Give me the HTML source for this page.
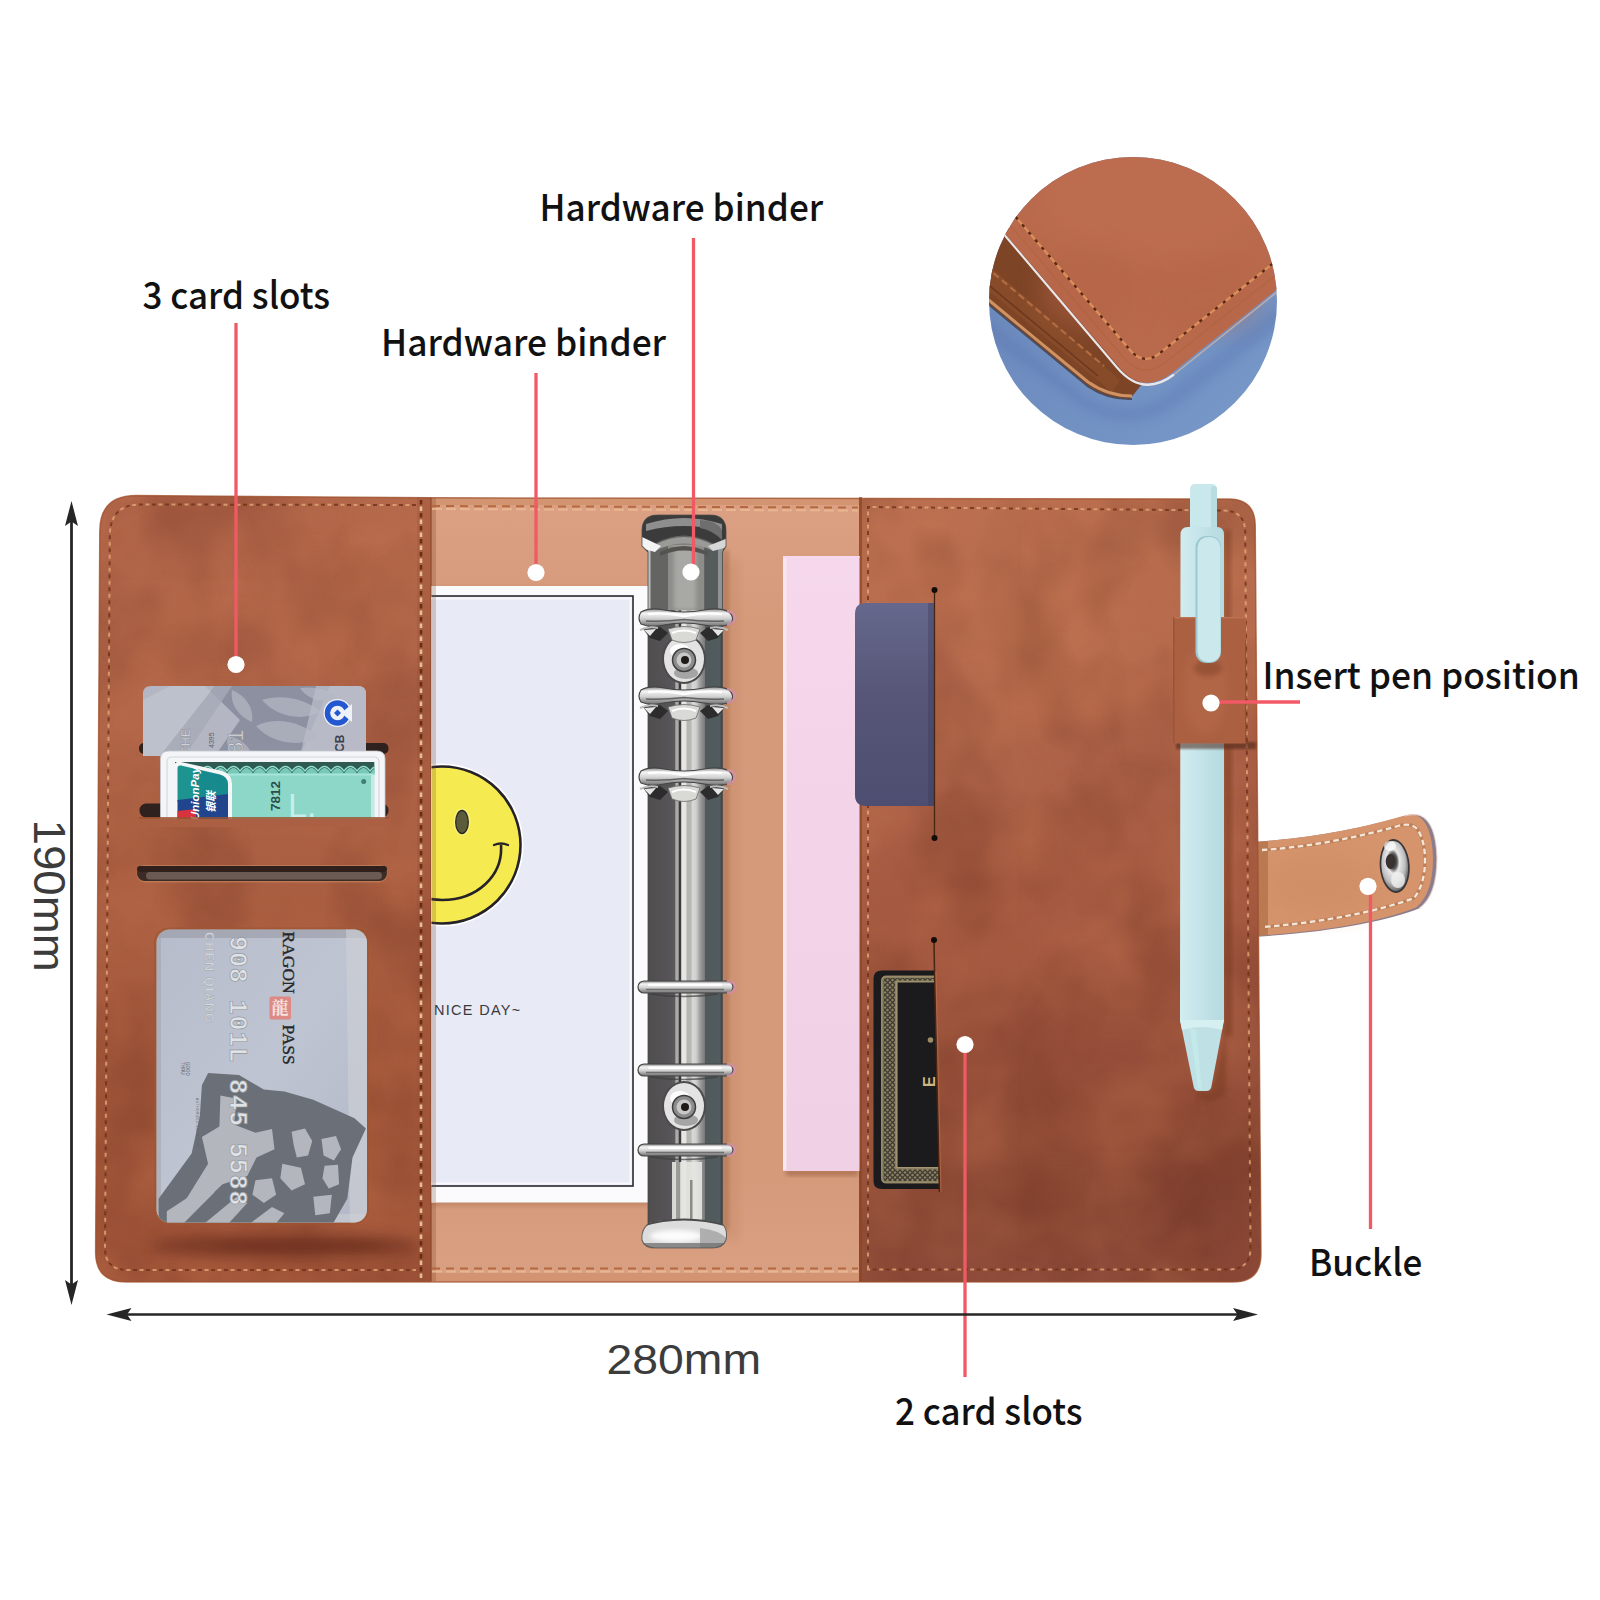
<!DOCTYPE html>
<html lang="en"><head><meta charset="utf-8"><title>Binder features</title>
<style>html,body{margin:0;padding:0;background:#fff}svg{display:block}</style></head>
<body>
<svg width="1600" height="1600" viewBox="0 0 1600 1600">
<defs>
<filter id="b2" x="-20%" y="-20%" width="140%" height="140%"><feGaussianBlur stdDeviation="2"/></filter>
<filter id="b4" x="-20%" y="-20%" width="140%" height="140%"><feGaussianBlur stdDeviation="4"/></filter>
<filter id="b8" x="-30%" y="-80%" width="160%" height="260%"><feGaussianBlur stdDeviation="7"/></filter>
<filter id="b12" x="-30%" y="-30%" width="160%" height="160%"><feGaussianBlur stdDeviation="12"/></filter>
<filter id="b25" x="-40%" y="-40%" width="180%" height="180%"><feGaussianBlur stdDeviation="25"/></filter>
<filter id="b1" x="-20%" y="-20%" width="140%" height="140%"><feGaussianBlur stdDeviation="0.8"/></filter>
<filter id="fMotD" x="0" y="0" width="100%" height="100%" color-interpolation-filters="sRGB"><feTurbulence type="fractalNoise" baseFrequency="0.012 0.009" numOctaves="3" seed="4"/><feColorMatrix type="matrix" values="0 0 0 0 0.36  0 0 0 0 0.15  0 0 0 0 0.09  2.6 0 0 0 -1.05"/></filter>
<filter id="fMotL" x="0" y="0" width="100%" height="100%" color-interpolation-filters="sRGB"><feTurbulence type="fractalNoise" baseFrequency="0.010 0.012" numOctaves="3" seed="11"/><feColorMatrix type="matrix" values="0 0 0 0 0.82  0 0 0 0 0.50  0 0 0 0 0.34  2.6 0 0 0 -1.05"/></filter>
<clipPath id="cBody"><path d="M136,495.500 L430,497.800 L1229,499 Q1255,499.500 1255.200,525 L1261,1254 Q1261,1282 1233,1282 L126,1282 Q95.500,1282 95.600,1252 L99.800,531 Q100,495.500 136,495.500 Z"/></clipPath>
<clipPath id="cLeft"><rect x="90" y="490" width="341.500" height="800"/></clipPath>
<clipPath id="cRight"><rect x="859" y="490" width="410" height="800"/></clipPath>
<clipPath id="cCirc"><circle cx="1133" cy="301" r="144"/></clipPath>
<linearGradient id="gSpine" gradientUnits="userSpaceOnUse" x1="648" x2="722" y1="0" y2="0">
 <stop offset="0" stop-color="#4a4848"/>
 <stop offset="0.03" stop-color="#504e4e"/>
 <stop offset="0.30" stop-color="#565458"/>
 <stop offset="0.365" stop-color="#5c5a5c"/>
 <stop offset="0.375" stop-color="#b0aeac"/>
 <stop offset="0.41" stop-color="#aaa8a6"/>
 <stop offset="0.418" stop-color="#3a3838"/>
 <stop offset="0.445" stop-color="#3e3c3c"/>
 <stop offset="0.455" stop-color="#e8e8e8"/>
 <stop offset="0.51" stop-color="#e4e4e2"/>
 <stop offset="0.53" stop-color="#b4b4b0"/>
 <stop offset="0.58" stop-color="#b8b8b4"/>
 <stop offset="0.60" stop-color="#d8d8d8"/>
 <stop offset="0.65" stop-color="#d0d0d0"/>
 <stop offset="0.70" stop-color="#a0a0a0"/>
 <stop offset="0.765" stop-color="#7a7a7a"/>
 <stop offset="0.775" stop-color="#505a5c"/>
 <stop offset="0.97" stop-color="#525c5e"/>
 <stop offset="1" stop-color="#3a4244"/>
</linearGradient>
<linearGradient id="gRing" x1="0" x2="0" y1="0" y2="1">
 <stop offset="0" stop-color="#8a8a8a"/>
 <stop offset="0.25" stop-color="#f4f4f4"/>
 <stop offset="0.55" stop-color="#d2d2d2"/>
 <stop offset="1" stop-color="#6e6e6e"/>
</linearGradient>
<linearGradient id="gPen" x1="0" x2="1" y1="0" y2="0">
 <stop offset="0" stop-color="#d2ecef"/>
 <stop offset="0.4" stop-color="#c6e5ea"/>
 <stop offset="1" stop-color="#b4dadf"/>
</linearGradient>
<linearGradient id="gGrey" x1="0" x2="1" y1="0" y2="1">
 <stop offset="0" stop-color="#adb0be"/>
 <stop offset="1" stop-color="#9094a7"/>
</linearGradient>
<linearGradient id="gWin" x1="0" x2="1" y1="0" y2="1">
 <stop offset="0" stop-color="#b6bccb"/>
 <stop offset="0.5" stop-color="#bec4d1"/>
 <stop offset="1" stop-color="#b2b8c7"/>
</linearGradient>
<linearGradient id="gBlueBg" x1="0" x2="1" y1="0" y2="1">
 <stop offset="0" stop-color="#6883b8"/>
 <stop offset="1" stop-color="#789aca"/>
</linearGradient>
<linearGradient id="gBlueCard" x1="0" x2="0" y1="0" y2="1">
 <stop offset="0" stop-color="#65688c"/>
 <stop offset="0.45" stop-color="#575678"/>
 <stop offset="1" stop-color="#4d4e71"/>
</linearGradient>
<radialGradient id="gSnap" cx="0.45" cy="0.4" r="0.6">
 <stop offset="0" stop-color="#2a2a2a"/>
 <stop offset="0.25" stop-color="#555"/>
 <stop offset="0.4" stop-color="#e8e8e8"/>
 <stop offset="0.75" stop-color="#bdbdbd"/>
 <stop offset="1" stop-color="#6a6a6a"/>
</radialGradient>
</defs>
<rect x="0" y="0" width="1600" height="1600" fill="#ffffff"/>
<g id="strap">
<path d="M1250,842 C1290,840 1345,833 1405,816 Q1414,813.500 1420,815.500 Q1436,822 1437,858 Q1437,896 1419,908.500 C1390,920 1330,933 1250,937 Z" fill="#8d7d8c"/>
<path d="M1250,842 C1290,840 1345,833 1403,816 Q1412,813.500 1417,815.500 Q1432,823 1433,858 Q1433,894 1416,907.500 C1388,919 1330,932 1250,936 Z" fill="#d5946c"/>
<path d="M1405,816 Q1414,813.500 1420,815.500 Q1436,822 1437,858 Q1437,896 1419,908.500" fill="none" stroke="#e9d5d3" stroke-width="1.200" opacity="0.8"/>
<ellipse cx="1320" cy="885" rx="55" ry="30" fill="#cf8c63" opacity="0.6" filter="url(#b12)"/>
<path d="M1257,842 L1257,936 L1268,935 L1268,841 Z" fill="#9a5a35" opacity="0.45"/>
<path d="M1262,850 C1295,848 1345,841 1398,826 Q1412,822 1418,830 Q1425,842 1425,860 Q1425,884 1414,898 C1380,911 1320,923 1262,927" fill="none" stroke="#b87a52" stroke-width="3.200" opacity="0.8"/>
<path d="M1262,850 C1295,848 1345,841 1398,826 Q1412,822 1418,830 Q1425,842 1425,860 Q1425,884 1414,898 C1380,911 1320,923 1262,927" fill="none" stroke="#f3e6da" stroke-width="2.300" stroke-dasharray="5.500 3.500"/>
<ellipse cx="1394.700" cy="866" rx="15" ry="27" fill="#3a3638" transform="rotate(-4 1394.700 866)"/>
<ellipse cx="1394.700" cy="866" rx="13.300" ry="25" fill="url(#gSnap)" transform="rotate(-4 1394.700 866)"/>
<ellipse cx="1398" cy="880" rx="7" ry="8" fill="#f0f0f0" opacity="0.8"/>
<ellipse cx="1390" cy="846" rx="6" ry="5" fill="#ffffff" opacity="0.7"/>
<ellipse cx="1390.500" cy="861.500" rx="4.800" ry="7.500" fill="#3a3230"/>
</g>
<g id="body" clip-path="url(#cBody)">
<rect x="90" y="490" width="1180" height="800" fill="#d59a7a"/>
<linearGradient id="gTanTop" x1="0" x2="0" y1="0" y2="1"><stop offset="0" stop-color="#dca184"/><stop offset="1" stop-color="#dca184" stop-opacity="0"/></linearGradient>
<rect x="430" y="496" width="430" height="120" fill="url(#gTanTop)"/>
<linearGradient id="gTanBot" x1="0" x2="0" y1="1" y2="0"><stop offset="0" stop-color="#daa083"/><stop offset="1" stop-color="#daa083" stop-opacity="0"/></linearGradient>
<rect x="430" y="1180" width="430" height="102" fill="url(#gTanBot)"/>
<rect x="430" y="496" width="430" height="9" fill="#c98860" opacity="0.5"/>
<rect x="430" y="1273" width="430" height="9" fill="#c98860" opacity="0.5"/>
<rect x="722" y="560" width="18" height="680" fill="#c58a68" opacity="0.4" filter="url(#b4)"/>
<linearGradient id="gLF" gradientUnits="userSpaceOnUse" x1="0" y1="500" x2="0" y2="1280"><stop offset="0" stop-color="#b1664a"/><stop offset="0.3" stop-color="#ae6347"/><stop offset="0.7" stop-color="#a75b3e"/><stop offset="1" stop-color="#a2563a"/></linearGradient>
<rect x="90" y="490" width="341.500" height="800" fill="url(#gLF)"/>
<g clip-path="url(#cLeft)">
<ellipse cx="230" cy="590" rx="110" ry="55" fill="#b96d4f" opacity="0.45" filter="url(#b25)"/>
<ellipse cx="320" cy="650" rx="60" ry="80" fill="#b5694b" opacity="0.4" filter="url(#b25)"/>
<ellipse cx="170" cy="770" rx="45" ry="100" fill="#b4684a" opacity="0.35" filter="url(#b25)"/>
<ellipse cx="260" cy="900" rx="110" ry="35" fill="#a85d41" opacity="0.35" filter="url(#b25)"/>
<ellipse cx="150" cy="1100" rx="35" ry="110" fill="#a0563a" opacity="0.35" filter="url(#b25)"/>
<ellipse cx="392" cy="1050" rx="25" ry="140" fill="#9e5438" opacity="0.4" filter="url(#b25)"/>
<ellipse cx="200" cy="540" rx="110" ry="22" fill="#a95f43" opacity="0.35" filter="url(#b25)"/>
<ellipse cx="395" cy="570" rx="35" ry="80" fill="#c17554" opacity="0.55" filter="url(#b25)"/>
<ellipse cx="330" cy="530" rx="60" ry="30" fill="#bb7050" opacity="0.4" filter="url(#b25)"/>
<rect x="90" y="490" width="341.500" height="800" filter="url(#fMotD)" opacity="0.20"/>
<rect x="90" y="490" width="341.500" height="800" filter="url(#fMotL)" opacity="0.19"/>
<ellipse cx="285" cy="1246" rx="135" ry="12" fill="#6f3320" opacity="0.75" filter="url(#b8)"/>
<ellipse cx="300" cy="1246" rx="85" ry="6" fill="#6a2f1d" opacity="0.45" filter="url(#b4)"/>
</g>
<linearGradient id="gRF" gradientUnits="userSpaceOnUse" x1="1000" y1="500" x2="1060" y2="1280"><stop offset="0" stop-color="#ba6f50"/><stop offset="0.13" stop-color="#b76c4e"/><stop offset="0.32" stop-color="#ac6248"/><stop offset="0.51" stop-color="#a55a41"/><stop offset="0.70" stop-color="#9a523c"/><stop offset="0.90" stop-color="#8b4935"/><stop offset="1" stop-color="#8f4c3a"/></linearGradient>
<rect x="859" y="490" width="410" height="800" fill="url(#gRF)"/>
<g clip-path="url(#cRight)">
<ellipse cx="1060" cy="640" rx="110" ry="70" fill="#bf7453" opacity="0.45" filter="url(#b25)"/>
<ellipse cx="1130" cy="560" rx="70" ry="40" fill="#b96e4f" opacity="0.4" filter="url(#b25)"/>
<ellipse cx="1000" cy="780" rx="80" ry="90" fill="#b3694b" opacity="0.4" filter="url(#b25)"/>
<ellipse cx="1120" cy="900" rx="60" ry="100" fill="#ad6246" opacity="0.35" filter="url(#b25)"/>
<ellipse cx="960" cy="920" rx="50" ry="80" fill="#9c533b" opacity="0.35" filter="url(#b25)"/>
<ellipse cx="1060" cy="1130" rx="110" ry="45" fill="#a25a40" opacity="0.4" filter="url(#b25)"/>
<ellipse cx="1195" cy="1190" rx="55" ry="60" fill="#7f4030" opacity="0.45" filter="url(#b25)"/>
<ellipse cx="1110" cy="1080" rx="50" ry="40" fill="#8a4734" opacity="0.35" filter="url(#b25)"/>
<ellipse cx="900" cy="560" rx="40" ry="50" fill="#c07453" opacity="0.4" filter="url(#b25)"/>
<rect x="859" y="490" width="410" height="800" filter="url(#fMotD)" opacity="0.22"/>
<rect x="859" y="490" width="410" height="800" filter="url(#fMotL)" opacity="0.20"/>
</g>
</g>
<g id="stitches" fill="none">
<path d="M136,495.500 L430,497.800 L1229,499 Q1255,499.500 1255.200,525 L1261,1254 Q1261,1282 1233,1282 L126,1282 Q95.500,1282 95.600,1252 L99.800,531 Q100,495.500 136,495.500 Z" stroke="#9c4f2a" stroke-width="1.5" opacity="0.7"/>
<path d="M416,505 L140,504.500 Q110,504.500 109.800,536 L105,1248 Q105,1270 128,1270 H416" stroke="#6e2e14" stroke-width="2" stroke-dasharray="4 9" opacity="0.75"/>
<path d="M416,505 L140,504.500 Q110,504.500 109.800,536 L105,1248 Q105,1270 128,1270 H416" stroke="#e2a878" stroke-width="2" stroke-dasharray="4 9" stroke-dashoffset="6.500" opacity="0.8"/>
<rect x="417" y="497" width="14" height="784" fill="#8f4a30" opacity="0.25" stroke="none"/>
<line x1="431" y1="498" x2="431" y2="1281" stroke="#8a4528" stroke-width="1.500" opacity="0.7"/>
<line x1="421" y1="500" x2="421" y2="1280" stroke="#66280f" stroke-width="2.600" stroke-dasharray="4.500 8.500" opacity="0.9"/>
<line x1="421" y1="500" x2="421" y2="1280" stroke="#f0c8a0" stroke-width="2.600" stroke-dasharray="4.500 8.500" stroke-dashoffset="6.500" opacity="0.9"/>
<rect x="432" y="498" width="4" height="783" fill="#8a5030" opacity="0.3" stroke="none"/>
<line x1="432" y1="506" x2="858" y2="507.500" stroke="#b4693e" stroke-width="2" stroke-dasharray="8 6"/>
<line x1="432" y1="509" x2="858" y2="510.500" stroke="#eebb96" stroke-width="2" stroke-dasharray="10 4" opacity="0.8"/>
<line x1="432" y1="1268.500" x2="858" y2="1268.500" stroke="#b4693e" stroke-width="2" stroke-dasharray="8 6"/>
<line x1="432" y1="1271.500" x2="858" y2="1271.500" stroke="#eebb96" stroke-width="2" stroke-dasharray="10 4" opacity="0.8"/>
<rect x="859" y="497" width="3" height="784" fill="#8c4524" opacity="0.7" stroke="none"/>
<path d="M868,1269.500 V507 L1224,510.500 Q1245,511 1245.200,532 L1250.500,1248 Q1250.500,1269.500 1228,1269.500 Z" stroke="#e2a878" stroke-width="2" stroke-dasharray="4 9" opacity="0.8"/>
<path d="M868,1269.500 V507 L1224,510.500 Q1245,511 1245.200,532 L1250.500,1248 Q1250.500,1269.500 1228,1269.500 Z" stroke="#6e2e14" stroke-width="2" stroke-dasharray="4 9" stroke-dashoffset="6.500" opacity="0.75"/>
</g>
<g id="leftcards">
<rect x="139" y="743" width="249.500" height="11" rx="5" fill="#2f211d"/>
<clipPath id="cGrey"><path d="M151,686 H358 Q366,686 366,694 V756 H143 V694 Q143,686 151,686 Z"/></clipPath>
<path d="M151,686 H358 Q366,686 366,694 V756 H143 V694 Q143,686 151,686 Z" fill="#b4b7c3"/>
<g clip-path="url(#cGrey)">
<path d="M205,686 L330,686 L300,756 L215,756 L240,720 Z" fill="#8c90a0"/>
<path d="M143,700 L170,686 L215,686 L160,756 L143,756 Z" fill="#c1c4ce" opacity="0.7"/>
<path d="M160,756 L215,686 L232,686 L185,756 Z" fill="#a6a9b7" opacity="0.8"/>
<g fill="#a9adba"><path d="M262,700 C280,694 306,698 320,712 C300,722 276,716 262,700 Z"/><path d="M256,726 C276,716 304,722 318,738 C296,748 270,742 256,726 Z"/><path d="M232,690 C246,696 254,708 252,722 C238,716 230,704 232,690 Z"/><path d="M300,688 C316,686 330,690 338,698 C324,704 308,700 300,688 Z"/><path d="M228,736 C240,738 250,746 252,756 L232,756 C228,750 226,742 228,736 Z"/></g>
<path d="M316,686 L366,686 L366,756 L300,756 Z" fill="#b9bcc8" opacity="0.75"/>
</g>
<circle cx="337.500" cy="713" r="14" fill="#eef1f8"/>
<circle cx="337.500" cy="713" r="10" fill="none" stroke="#2458d0" stroke-width="5.500"/>
<path d="M337.500,706 L345,713 L337.500,720 L330,713 Z" fill="#eef1f8"/>
<path d="M337.500,709.500 L341,713 L337.500,716.500 L334,713 Z" fill="#2458d0"/>
<path d="M341,713 L352,704 L352,722 Z" fill="#eef1f8"/>
<g font-family="'Liberation Sans',sans-serif" fill="#7c7f88">
<text transform="translate(243,754) rotate(-90)" font-size="22" fill="#dfe1e7" stroke="#8d9099" stroke-width="0.7">81</text>
<text transform="translate(214,748) rotate(-90)" font-size="7" fill="#5d606c">4395</text>
<text transform="translate(190,756) rotate(-90)" font-size="13" fill="#cfd1d8" stroke="#8d9099" stroke-width="0.5" font-weight="bold">CHE</text>
<text transform="translate(344,752) rotate(-90)" font-size="12" font-weight="bold" fill="#3c404c">CB</text>
</g>
<rect x="139.500" y="803.500" width="249" height="14" rx="6.500" fill="#2f211d"/>
<path d="M169,751 H377 Q385,751 385,759 V818.500 H160.500 V759 Q160.500,751 169,751 Z" fill="#f3f5f7" stroke="#c4c7ce" stroke-width="0.8"/>
<path d="M172,757 H374 Q379,757 379,762 V818.500" fill="none" stroke="#d4d7dd" stroke-width="1.200"/>
<path d="M167,818.500 V762 Q167,757 172,757" fill="none" stroke="#d4d7dd" stroke-width="1.200"/>
<clipPath id="cGreen"><rect x="175" y="762" width="199.500" height="56.500"/></clipPath>
<g clip-path="url(#cGreen)">
<rect x="175" y="762" width="199.500" height="57" fill="#8cd7c8"/>
<rect x="175" y="762" width="199.500" height="11.500" fill="#2f5a52"/>
<path d="M175,773.500 q6.500,-11 13,0 q6.500,-11 13,0 q6.500,-11 13,0 q6.500,-11 13,0 q6.500,-11 13,0 q6.500,-11 13,0 q6.500,-11 13,0 q6.500,-11 13,0 q6.500,-11 13,0 q6.500,-11 13,0 q6.500,-11 13,0 q6.500,-11 13,0 q6.500,-11 13,0 q6.500,-11 13,0 q6.500,-11 13,0 q6.500,-11 13,0 V775 H175 Z" fill="#79c9b8"/>
<path d="M175,771 q6.500,-9 13,0 q6.500,-9 13,0 q6.500,-9 13,0 q6.500,-9 13,0 q6.500,-9 13,0 q6.500,-9 13,0 q6.500,-9 13,0 q6.500,-9 13,0 q6.500,-9 13,0 q6.500,-9 13,0 q6.500,-9 13,0 q6.500,-9 13,0 q6.500,-9 13,0 q6.500,-9 13,0 q6.500,-9 13,0 q6.500,-9 13,0" fill="none" stroke="#8fe0cf" stroke-width="1.300"/>
<rect x="175" y="773.500" width="199.500" height="2" fill="#a5e6d9"/>
<rect x="371" y="775" width="3.500" height="44" fill="#d8ece8" opacity="0.8"/>
<circle cx="363.700" cy="781.500" r="2.500" fill="#3f7f72"/>
<text x="288" y="817" font-family="'Liberation Sans',sans-serif" font-size="34" fill="#c6f0e7">L.</text>
</g>
<path d="M174.500,766 Q174.500,761 181,762 L222,771 Q232,774 232,784 V819 H174.500 Z" fill="#f4f6f8"/>
<path d="M177.500,768 Q177.500,765 181,765.500 L194,768.500 V802 L177.500,802 Z" fill="#1e9490"/>
<path d="M194,768.500 L220,774.500 Q228,777 228,784 V802 H194 Z" fill="#178a8e"/>
<path d="M177.500,800 L228,794 V819 H177.500 Z" fill="#21458c"/>
<path d="M177.500,811 L196,809 V819 H177.500 Z" fill="#d8323c"/>
<g font-family="'Liberation Sans','Noto Sans CJK SC',sans-serif" fill="#ffffff" font-weight="bold" font-style="italic">
<text transform="translate(199,820) rotate(-90)" font-size="11.500">UnionPay</text>
<text transform="translate(215,813) rotate(-90)" font-size="11">银联</text>
</g>
<g font-family="'Liberation Sans',sans-serif">
<text transform="translate(280,811) rotate(-90)" font-size="13.500" font-weight="bold" fill="#2b4f49">7812</text>
</g>
<rect x="139" y="817" width="250" height="2.500" fill="#9a5230" opacity="0.8"/>
<rect x="139" y="819" width="250" height="8" fill="#ab6044"/>
<rect x="136.500" y="865" width="251" height="17.500" rx="8.500" fill="#c98a62" opacity="0.6"/>
<rect x="137" y="866" width="250" height="15" rx="7.500" fill="#3d2c26"/>
<rect x="146" y="872" width="236" height="7.500" rx="3.700" fill="#6b5a54"/>
<rect x="137" y="866" width="250" height="6" rx="3" fill="#2f201b"/>
<rect x="154" y="927.500" width="215" height="297" rx="15" fill="#a05631" opacity="0.7"/>
<rect x="156.500" y="929.500" width="210.500" height="293" rx="13" fill="url(#gWin)"/>
<clipPath id="cWin"><rect x="156.500" y="929.500" width="210.500" height="293" rx="13"/></clipPath>
<g clip-path="url(#cWin)">
<rect x="156" y="929" width="212" height="9" fill="#8d8f96" opacity="0.45"/>
<rect x="156" y="929" width="5" height="294" fill="#9fa2a9" opacity="0.5"/>
<path d="M346,929 L368,929 L368,1223 L350,1223 Z" fill="#cfd1d5" opacity="0.6"/>
<path d="M156,1214 H368 V1223 H156 Z" fill="#cfd1d5" opacity="0.5"/>
<path d="M208.1,1073.0 L239.0,1075.0 L263.8,1089.5 L284.4,1091.5 L313.3,1099.8 L354.5,1118.3 L365.9,1128.6 L352.5,1157.5 L347.3,1198.8 L331.8,1225.6 L158.6,1225.6 L158.6,1198.8 L191.6,1153.4 L199.8,1116.3 L201.9,1085.3 Z" fill="#6b7078"/>
<g fill="#b3b7bd"><path d="M220.4,1095.6 L236.9,1098.7 L233.9,1124.5 L255.5,1132.8 L272.0,1129.1 L274.5,1149.3 L256.5,1157.5 L247.3,1176.1 L222.5,1184.3 L201.9,1203.9 L186.4,1198.8 L208.1,1163.7 L201.9,1136.9 L219.4,1126.6 Z"/><path d="M291.6,1131.7 L305.0,1128.6 L312.2,1141.0 L308.1,1155.5 L296.8,1157.5 L293.7,1145.1 Z"/><path d="M321.5,1139.0 L336.0,1135.9 L341.1,1149.3 L333.9,1160.6 L323.6,1155.5 Z"/><path d="M324.6,1165.8 L338.0,1164.7 L339.1,1184.3 L328.7,1188.5 L322.5,1178.2 Z"/><path d="M282.3,1163.7 L300.9,1167.8 L305.0,1184.3 L291.6,1190.5 L280.3,1178.2 Z"/><path d="M255.5,1180.2 L272.0,1178.2 L276.1,1194.7 L263.8,1202.9 L252.4,1194.7 Z"/><path d="M313.3,1196.7 L331.8,1194.7 L329.8,1213.2 L315.3,1215.3 Z"/><path d="M166.8,1211.2 L208.1,1184.3 L214.3,1192.6 L181.3,1225.6 L166.8,1225.6 Z"/><path d="M201.9,1225.6 L236.9,1196.7 L247.3,1202.9 L226.6,1225.6 Z"/><path d="M247.3,1225.6 L272.0,1207.0 L284.4,1213.2 L274.1,1225.6 Z"/></g>
<g font-family="'Liberation Serif',serif" fill="#26262b" stroke="#26262b" stroke-width="0.35">
<text transform="translate(282.500,931.500) rotate(90)" font-size="17.500">RAGON</text>
<text transform="translate(282.500,1024.500) rotate(90)" font-size="17.500">PASS</text>
</g>
<rect x="269.500" y="996.500" width="21.500" height="23" rx="2" fill="#e0837b" opacity="0.9"/>
<text x="271.500" y="1014" font-family="'Noto Serif CJK SC','Noto Sans CJK SC',serif" font-size="17" font-weight="bold" fill="#f7e3e0">龍</text>
<g font-family="'Liberation Mono',monospace" font-weight="bold" fill="#dfe2e6" stroke="#8f949b" stroke-width="0.6">
<text transform="translate(229.500,936) rotate(90)" font-size="25" letter-spacing="0.900">908 101L 845 5588</text>
</g>
<g font-family="'Liberation Sans',sans-serif" font-weight="bold" fill="#d3d6db" stroke="#a1a5ab" stroke-width="0.4">
<text transform="translate(205,932) rotate(90)" font-size="12.500" letter-spacing="1.2">CHEN QIANG</text>
</g>
<g font-family="'Liberation Sans',sans-serif" fill="#60646b">
<text transform="translate(186,1062) rotate(90)" font-size="4.500">GOOD</text>
<text transform="translate(180.500,1062) rotate(90)" font-size="4.500">THRU</text>
<text transform="translate(196,1098) rotate(90)" font-size="3.500" letter-spacing="0.3">AUTHORIZED SIGNATURE</text>
</g>
</g>
</g>
<g id="paper">
<clipPath id="cPaper"><rect x="431.500" y="560" width="228.500" height="660"/></clipPath>
<g clip-path="url(#cPaper)">
<rect x="424" y="588" width="226" height="618" fill="#8a5030" opacity="0.25" filter="url(#b2)"/>
<rect x="420" y="586" width="229" height="616.500" fill="#fbfbfe"/>
<rect x="420" y="596" width="213" height="590" fill="#e8eaf6" stroke="#2a2a2e" stroke-width="1.6"/>
<rect x="420" y="598.500" width="210.500" height="585" fill="none" stroke="#f8f8fd" stroke-width="2"/>
<circle cx="442" cy="845" r="81.500" fill="#ffffff"/>
<circle cx="442" cy="845" r="78.500" fill="#f5eb50" stroke="#26222a" stroke-width="2.6"/>
<ellipse cx="462" cy="822" rx="8.500" ry="13.500" fill="#f9f27a"/>
<ellipse cx="462" cy="822" rx="6.300" ry="11.500" fill="#5c5c3a" stroke="#2c2a26" stroke-width="1.3"/>
<path d="M494,845 Q501,842 508,845" fill="none" stroke="#26222a" stroke-width="2.400" stroke-linecap="round"/>
<path d="M501,845 C503,875 478,900 442,900 C434,900 428,899 420,897" fill="none" stroke="#26222a" stroke-width="2.600"/>
<text x="434" y="1014.500" font-family="'Liberation Sans',sans-serif" font-size="14.500" letter-spacing="1.300" fill="#3a3a3e">NICE DAY~</text>
</g>
<rect x="431.500" y="586" width="4.500" height="616" fill="#7a4a30" opacity="0.25"/>
</g>
<g id="spine">
<linearGradient id="gPink" x1="0" x2="0" y1="0" y2="1"><stop offset="0" stop-color="#f6d8ec"/><stop offset="0.3" stop-color="#f4d4e8"/><stop offset="1" stop-color="#f0d0e4"/></linearGradient>
<rect x="786" y="1168" width="72" height="8" fill="#8a4f30" opacity="0.45" filter="url(#b2)"/>
<rect x="783" y="556" width="76.500" height="615" fill="url(#gPink)"/>
<rect x="783" y="556" width="3.500" height="614" fill="#f9e6f3"/>
<rect x="783" y="556" width="76.500" height="2" fill="#f6d9ee"/>
<rect x="722" y="550" width="7" height="680" fill="#8a5535" opacity="0.35" filter="url(#b2)"/>
<path d="M648,552 L642,546 V531 Q642,515 658,515 H710 Q726,515 726,531 V546 L722.500,552 V1224 Q728,1230 726,1240 Q723,1248 712,1248 H656 Q644,1248 642,1240 Q641,1230 648,1224 Z" fill="url(#gSpine)"/>
<clipPath id="cSpine"><path d="M648,552 L642,546 V531 Q642,515 658,515 H710 Q726,515 726,531 V546 L722.500,552 V1224 Q728,1230 726,1240 Q723,1248 712,1248 H656 Q644,1248 642,1240 Q641,1230 648,1224 Z"/></clipPath>
<g clip-path="url(#cSpine)">
<rect x="640" y="515" width="90" height="95" fill="#646462"/>
<rect x="668" y="545" width="36" height="65" fill="#8c8c88"/>
<rect x="674" y="545" width="22" height="65" fill="#a8a8a4" filter="url(#b2)"/>
<rect x="705" y="545" width="13" height="65" fill="#565b5b"/>
<rect x="718" y="545" width="5" height="65" fill="#8f9393"/>
<rect x="648" y="545" width="2.500" height="65" fill="#bdbdbd"/>
<path d="M640,515 H728 V549 L712,543 Q684,528 656,543 L640,549 Z" fill="#3b3b3b"/>
<path d="M646,524 Q684,512 722,524 L722,531 Q684,521 646,531 Z" fill="#8e8e8e"/>
<path d="M700,520 Q716,520 722,530 L722,540 Q712,530 700,528 Z" fill="#6e6e6e"/>
<path d="M655,545 Q684,529 713,545 L713,551 Q684,536 655,551 Z" fill="#9a9a96"/>
<path d="M660,552 Q684,540 708,552 L708,556 Q684,545 660,556 Z" fill="#55534f"/>
<path d="M640,536 L661,546 L655,552 L640,548 Z" fill="#f4f4f4"/>
<path d="M728,538 L708,546 L713,551 L728,547 Z" fill="#d6d6d6"/>
<rect x="672" y="1162" width="30" height="62" fill="#e4e4e0" opacity="0.9"/>
<rect x="676" y="1162" width="4" height="62" fill="#8a8a86" opacity="0.8"/>
<rect x="690" y="1180" width="2.500" height="44" fill="#77756f" opacity="0.8"/>
<path d="M638,1226 Q684,1212 730,1226 V1252 H638 Z" fill="#dcdcdc"/>
<path d="M641,1226 Q684,1213 728,1226" fill="none" stroke="#4a4a4a" stroke-width="2.200"/>
<ellipse cx="676" cy="1236" rx="26" ry="6" fill="#ffffff" opacity="0.9" filter="url(#b2)"/>
<path d="M700,1228 Q720,1230 728,1240 L728,1250 L700,1250 Z" fill="#a3a3a3" opacity="0.8"/>
<rect x="638" y="1243" width="92" height="6" fill="#6f6f6f" opacity="0.75"/>
</g>
<path d="M648,552 L642,546 V531 Q642,515 658,515 H710 Q726,515 726,531 V546 L722.500,552 V1224 Q728,1230 726,1240 Q723,1248 712,1248 H656 Q644,1248 642,1240 Q641,1230 648,1224 Z" fill="none" stroke="#4a4a48" stroke-width="1.100" opacity="0.7"/>
<ellipse cx="684" cy="659" rx="22" ry="25" fill="#4b4b4b"/>
<ellipse cx="684" cy="659" rx="20" ry="23" fill="#e3e3e3"/>
<ellipse cx="680" cy="651" rx="10" ry="7" fill="#ffffff" opacity="0.9"/>
<ellipse cx="686" cy="673" rx="12" ry="6" fill="#a5a5a5"/>
<circle cx="684" cy="660" r="11.500" fill="#8c8c8c" stroke="#3e3e3e" stroke-width="1.5"/>
<circle cx="684" cy="660" r="7.500" fill="#c8c8c8"/>
<circle cx="685" cy="660" r="4" fill="#1e1a18"/>
<ellipse cx="684" cy="1106" rx="22" ry="25" fill="#4b4b4b"/>
<ellipse cx="684" cy="1106" rx="20" ry="23" fill="#e3e3e3"/>
<ellipse cx="680" cy="1098" rx="10" ry="7" fill="#ffffff" opacity="0.9"/>
<ellipse cx="686" cy="1120" rx="12" ry="6" fill="#a5a5a5"/>
<circle cx="684" cy="1107" r="11.500" fill="#8c8c8c" stroke="#3e3e3e" stroke-width="1.5"/>
<circle cx="684" cy="1107" r="7.500" fill="#c8c8c8"/>
<circle cx="685" cy="1107" r="4" fill="#1e1a18"/>
<path d="M641,624 Q637,618 641,612 Q650,607 664,610 Q684,614 704,610 Q720,607 729,612 Q735,617 731,624 Q720,628 704,625 Q684,621 664,625 Q650,628 641,624 Z" fill="url(#gRing)" stroke="#454545" stroke-width="1.200"/>
<path d="M648,614 Q664,612 684,616 Q704,612 722,614" fill="none" stroke="#ffffff" stroke-width="2.400" opacity="0.95"/>
<path d="M646,621 Q664,622 684,619.5 Q704,622 724,621" fill="none" stroke="#5a5a5a" stroke-width="1.600" opacity="0.9"/>
<path d="M727,611 Q737,613 735,619 Q733,624 727,625" fill="none" stroke="#d48fa2" stroke-width="2.400" opacity="0.9"/>
<path d="M643,629 L660,627 L668,633 L660,641 L650,638 Z" fill="#2c2c2c"/>
<path d="M725,629 L708,627 L700,633 L708,641 L718,638 Z" fill="#2c2c2c"/>
<path d="M644,630 L656,629 L650,636 Z" fill="#e6e6e6"/>
<path d="M724,630 L712,629 L718,636 Z" fill="#e6e6e6"/>
<path d="M668,629 Q684,624 700,629 L696,640 Q684,645 672,640 Z" fill="#d9d9d6" stroke="#6a6a6a" stroke-width="0.800"/>
<path d="M672,633 Q684,628 696,633" fill="none" stroke="#ffffff" stroke-width="2"/>
<path d="M640,630 Q648,626 658,628" fill="none" stroke="#bdbdbd" stroke-width="2"/>
<path d="M728,630 Q720,626 710,628" fill="none" stroke="#bdbdbd" stroke-width="2"/>
<path d="M641,702 Q637,696 641,690 Q650,685 664,688 Q684,692 704,688 Q720,685 729,690 Q735,695 731,702 Q720,706 704,703 Q684,699 664,703 Q650,706 641,702 Z" fill="url(#gRing)" stroke="#454545" stroke-width="1.200"/>
<path d="M648,692 Q664,690 684,694 Q704,690 722,692" fill="none" stroke="#ffffff" stroke-width="2.400" opacity="0.95"/>
<path d="M646,699 Q664,700 684,697.5 Q704,700 724,699" fill="none" stroke="#5a5a5a" stroke-width="1.600" opacity="0.9"/>
<path d="M727,689 Q737,691 735,697 Q733,702 727,703" fill="none" stroke="#d48fa2" stroke-width="2.400" opacity="0.9"/>
<path d="M643,707 L660,705 L668,711 L660,719 L650,716 Z" fill="#2c2c2c"/>
<path d="M725,707 L708,705 L700,711 L708,719 L718,716 Z" fill="#2c2c2c"/>
<path d="M644,708 L656,707 L650,714 Z" fill="#e6e6e6"/>
<path d="M724,708 L712,707 L718,714 Z" fill="#e6e6e6"/>
<path d="M668,707 Q684,702 700,707 L696,718 Q684,723 672,718 Z" fill="#d9d9d6" stroke="#6a6a6a" stroke-width="0.800"/>
<path d="M672,711 Q684,706 696,711" fill="none" stroke="#ffffff" stroke-width="2"/>
<path d="M640,708 Q648,704 658,706" fill="none" stroke="#bdbdbd" stroke-width="2"/>
<path d="M728,708 Q720,704 710,706" fill="none" stroke="#bdbdbd" stroke-width="2"/>
<path d="M641,783 Q637,777 641,771 Q650,766 664,769 Q684,773 704,769 Q720,766 729,771 Q735,776 731,783 Q720,787 704,784 Q684,780 664,784 Q650,787 641,783 Z" fill="url(#gRing)" stroke="#454545" stroke-width="1.200"/>
<path d="M648,773 Q664,771 684,775 Q704,771 722,773" fill="none" stroke="#ffffff" stroke-width="2.400" opacity="0.95"/>
<path d="M646,780 Q664,781 684,778.5 Q704,781 724,780" fill="none" stroke="#5a5a5a" stroke-width="1.600" opacity="0.9"/>
<path d="M727,770 Q737,772 735,778 Q733,783 727,784" fill="none" stroke="#d48fa2" stroke-width="2.400" opacity="0.9"/>
<path d="M643,788 L660,786 L668,792 L660,800 L650,797 Z" fill="#2c2c2c"/>
<path d="M725,788 L708,786 L700,792 L708,800 L718,797 Z" fill="#2c2c2c"/>
<path d="M644,789 L656,788 L650,795 Z" fill="#e6e6e6"/>
<path d="M724,789 L712,788 L718,795 Z" fill="#e6e6e6"/>
<path d="M668,788 Q684,783 700,788 L696,799 Q684,804 672,799 Z" fill="#d9d9d6" stroke="#6a6a6a" stroke-width="0.800"/>
<path d="M672,792 Q684,787 696,792" fill="none" stroke="#ffffff" stroke-width="2"/>
<path d="M640,789 Q648,785 658,787" fill="none" stroke="#bdbdbd" stroke-width="2"/>
<path d="M728,789 Q720,785 710,787" fill="none" stroke="#bdbdbd" stroke-width="2"/>
<rect x="638" y="981" width="95" height="12" rx="6" fill="url(#gRing)" stroke="#454545" stroke-width="1.200"/>
<rect x="648" y="983.5" width="74" height="2.600" rx="1.300" fill="#ffffff" opacity="0.95"/>
<path d="M646,989.5 H724" fill="none" stroke="#5e5e5e" stroke-width="1.300" opacity="0.8"/>
<path d="M727,981 Q737,983 735,988 Q733,993 727,993" fill="none" stroke="#d48fa2" stroke-width="2.400" opacity="0.9"/>
<path d="M650,994 Q684,999 718,994" fill="none" stroke="#3f3f3f" stroke-width="1.600" opacity="0.7"/>
<rect x="638" y="1064" width="95" height="12" rx="6" fill="url(#gRing)" stroke="#454545" stroke-width="1.200"/>
<rect x="648" y="1066.5" width="74" height="2.600" rx="1.300" fill="#ffffff" opacity="0.95"/>
<path d="M646,1072.5 H724" fill="none" stroke="#5e5e5e" stroke-width="1.300" opacity="0.8"/>
<path d="M727,1064 Q737,1066 735,1071 Q733,1076 727,1076" fill="none" stroke="#d48fa2" stroke-width="2.400" opacity="0.9"/>
<path d="M650,1077 Q684,1082 718,1077" fill="none" stroke="#3f3f3f" stroke-width="1.600" opacity="0.7"/>
<rect x="638" y="1144" width="95" height="12" rx="6" fill="url(#gRing)" stroke="#454545" stroke-width="1.200"/>
<rect x="648" y="1146.5" width="74" height="2.600" rx="1.300" fill="#ffffff" opacity="0.95"/>
<path d="M646,1152.5 H724" fill="none" stroke="#5e5e5e" stroke-width="1.300" opacity="0.8"/>
<path d="M727,1144 Q737,1146 735,1151 Q733,1156 727,1156" fill="none" stroke="#d48fa2" stroke-width="2.400" opacity="0.9"/>
<path d="M650,1157 Q684,1162 718,1157" fill="none" stroke="#3f3f3f" stroke-width="1.600" opacity="0.7"/>
</g>
<g id="rightstuff">
<path d="M866,603 H934 V806 H866 Q855,806 855,795 V614 Q855,603 866,603 Z" fill="url(#gBlueCard)"/>
<rect x="928" y="603" width="6" height="203" fill="#3c3c5c" opacity="0.4"/>
<line x1="934.500" y1="590" x2="934.500" y2="838" stroke="#4a2412" stroke-width="1.300"/>
<circle cx="934.500" cy="590" r="3" fill="#140c08"/>
<circle cx="934.500" cy="838" r="3" fill="#140c08"/>
<clipPath id="cBlk"><path d="M850,960 L934,960 L939.500,1200 L850,1200 Z"/></clipPath>
<g clip-path="url(#cBlk)">
<path d="M882,970.500 H945 V1189 H882 Q873.500,1189 873.500,1181 V978.500 Q873.500,970.500 882,970.500 Z" fill="#1b1a1c"/>
<path d="M886,976 H945 V982 H897 V1167.500 H945 V1183 H886 Q881.500,1183 881.500,1178.500 V980.500 Q881.500,976 886,976 Z" fill="#8d8263"/>
<pattern id="pHatch" width="5" height="5" patternUnits="userSpaceOnUse"><path d="M0,0 L5,5 M5,0 L0,5" stroke="#2d2a24" stroke-width="1.300"/></pattern>
<path d="M886,978 H945 V980.500 H895 V1169.500 H945 V1181 H886 Q883.500,1181 883.500,1178.500 V980.500 Q883.500,978 886,978 Z" fill="url(#pHatch)" opacity="0.8"/>
<path d="M945,982 H897 V1167.500 H945" fill="none" stroke="#b3a57c" stroke-width="1.200" opacity="0.85"/>
<path d="M945,976 H886 Q881.500,976 881.500,980.500 V1178.500 Q881.500,1183 886,1183 H945" fill="none" stroke="#a89a70" stroke-width="1" opacity="0.8"/>
<circle cx="930.500" cy="1040" r="2.800" fill="#9a8c66"/>
<text transform="translate(934.500,1087) rotate(-90)" font-family="'Liberation Sans',sans-serif" font-size="16" font-weight="bold" fill="#cbb680">E</text>
</g>
<path d="M934,940 L934.500,972 L939.500,1192" fill="none" stroke="#4a2412" stroke-width="1.500"/>
<path d="M936,972 L941,1192" fill="none" stroke="#c07a52" stroke-width="1.200" opacity="0.5"/>
<circle cx="934" cy="940" r="3" fill="#140c08"/>
</g>
<g id="pen">
<rect x="1224" y="530" width="7" height="90" fill="#6b3318" opacity="0.35" filter="url(#b2)"/>
<rect x="1224" y="746" width="8" height="290" fill="#6b3318" opacity="0.4" filter="url(#b2)"/>
<path d="M1196,1092 L1212,1092 L1226,1030 L1226,1094 Q1212,1106 1196,1098 Z" fill="#6b3318" opacity="0.35" filter="url(#b2)"/>
<rect x="1190" y="484" width="27" height="50" rx="5" fill="#c9e8ec"/>
<rect x="1211" y="486" width="6" height="46" rx="3" fill="#b4dadf" opacity="0.8"/>
<path d="M1180.500,535 Q1180.500,527 1188,527 H1217 Q1224,527 1224,535 V1022 H1180 Z" fill="url(#gPen)"/>
<path d="M1180,1020 H1224 L1211.500,1086 Q1211,1091 1206,1091 H1199 Q1194,1091 1193.500,1086 Z" fill="#bfe1e6"/>
<path d="M1180,1020 H1224 L1222,1030 Q1202,1024 1182,1030 Z" fill="#d6eff1"/>
<path d="M1196,1030 L1190,1028 L1198,1088 L1202,1090 Z" fill="#c4ebea" opacity="0.8"/>
<rect x="1176" y="742" width="80" height="7" fill="#4a2414" opacity="0.55" filter="url(#b1)"/>
<rect x="1173" y="617" width="73" height="126.500" fill="#ab6042"/>
<rect x="1245" y="640" width="1.500" height="103" fill="#7c3f22" opacity="0.5"/>
<rect x="1173" y="617" width="73" height="1.500" fill="#c68060" opacity="0.6"/>
<rect x="1173" y="617" width="1.500" height="126" fill="#8f4c30" opacity="0.6"/>
<ellipse cx="1205" cy="690" rx="22" ry="45" fill="#b56a4a" opacity="0.6" filter="url(#b4)"/>
<ellipse cx="1208" cy="668" rx="14" ry="8" fill="#7a3d25" opacity="0.45" filter="url(#b2)"/>
<rect x="1195.500" y="536" width="25.500" height="127" rx="11" fill="#9cc9cf"/>
<rect x="1197.500" y="537" width="23" height="125" rx="10.500" fill="#cbe8ec"/>
</g>
<g id="circle" clip-path="url(#cCirc)">
<rect x="985" y="150" width="300" height="300" fill="url(#gBlueBg)"/>
<path d="M985,318 L1088,398 Q1135,420 1172,388 L1285,300 L1285,322 L1180,404 Q1135,436 1085,410 L985,335 Z" fill="#4d66a8" opacity="0.22" filter="url(#b4)"/>
<path d="M985,200 L1142,384 L1130,399 Q1108,400 1088,386 L985,301 Z" fill="#7d4426"/>
<path d="M985,262 L1120,380 L1112,392 L985,288 Z" fill="#8a4e2b" opacity="0.8"/>
<path d="M985,297 L1088,382 Q1108,396 1132,396" fill="none" stroke="#cf9263" stroke-width="3"/>
<path d="M985,301.500 L1088,386.500 Q1108,400 1132,399" fill="none" stroke="#4b4d5c" stroke-width="1.800"/>
<path d="M985,266 L1104,366" fill="none" stroke="#b06c42" stroke-width="2.200" stroke-dasharray="7 4"/>
<path d="M985,282 L1098,376" fill="none" stroke="#5e3019" stroke-width="1.500" opacity="0.7"/>
<path d="M985,130 L1300,130 L1300,271 L1172,373 Q1143,396 1118,366 L985,210 Z" fill="#ba6a4c"/>
<ellipse cx="1150" cy="200" rx="110" ry="60" fill="#c07152" opacity="0.5" filter="url(#b12)"/>
<ellipse cx="1090" cy="290" rx="50" ry="40" fill="#b36347" opacity="0.5" filter="url(#b12)"/>
<ellipse cx="1210" cy="300" rx="50" ry="30" fill="#b36347" opacity="0.4" filter="url(#b12)"/>
<path d="M985,212 L1117,367.500 Q1143,398 1174,374.500" fill="none" stroke="#e9e6ea" stroke-width="2.200"/>
<path d="M1174,374.500 L1300,273.500" fill="none" stroke="#d7b9a8" stroke-width="1.500" opacity="0.7"/>
<path d="M985,196 L1124,358 Q1143,380 1166,362 L1300,256" fill="none" stroke="#a96136" stroke-width="1.200" opacity="0.5"/>
<path d="M996,194 L1130,350 Q1144,366 1160,353 L1300,242" fill="none" stroke="#5a2a12" stroke-width="2.200" stroke-dasharray="3.500 6.500"/>
<path d="M996,194 L1130,350 Q1144,366 1160,353 L1300,242" fill="none" stroke="#d98d5b" stroke-width="2.400" stroke-dasharray="6.500 3.500" stroke-dashoffset="6.500"/>
</g>
<g id="labels">
<line x1="236" y1="323" x2="236" y2="660" stroke="#f25966" stroke-width="3.300"/>
<circle cx="236" cy="664.5" r="8.600" fill="#ffffff"/>
<line x1="536" y1="373" x2="536" y2="568" stroke="#f25966" stroke-width="3.300"/>
<circle cx="536" cy="572.5" r="8.600" fill="#ffffff"/>
<line x1="693.5" y1="238" x2="693.5" y2="568" stroke="#f25966" stroke-width="3.300"/>
<circle cx="691" cy="572" r="8.600" fill="#ffffff"/>
<line x1="1216" y1="702" x2="1300" y2="702" stroke="#f25966" stroke-width="3.300"/>
<circle cx="1211" cy="703" r="8.600" fill="#ffffff"/>
<line x1="1370.5" y1="892" x2="1370.5" y2="1229" stroke="#f25966" stroke-width="3.300"/>
<circle cx="1368" cy="886.3" r="8.600" fill="#ffffff"/>
<line x1="965" y1="1050" x2="965" y2="1377" stroke="#f25966" stroke-width="3.300"/>
<circle cx="965" cy="1044.5" r="8.600" fill="#ffffff"/>
<text transform="translate(539.5,220.5) scale(0.95,1)" font-family="'Noto Sans CJK SC','Liberation Sans',sans-serif" font-weight="500" font-size="37" fill="#111111">Hardware binder</text>
<text transform="translate(142.5,309) scale(0.945,1)" font-family="'Noto Sans CJK SC','Liberation Sans',sans-serif" font-weight="500" font-size="37" fill="#111111">3 card slots</text>
<text transform="translate(381,356) scale(0.955,1)" font-family="'Noto Sans CJK SC','Liberation Sans',sans-serif" font-weight="500" font-size="37" fill="#111111">Hardware binder</text>
<text transform="translate(1262.5,689) scale(0.955,1)" font-family="'Noto Sans CJK SC','Liberation Sans',sans-serif" font-weight="500" font-size="37" fill="#111111">Insert pen position</text>
<text transform="translate(1309,1275.5) scale(0.945,1)" font-family="'Noto Sans CJK SC','Liberation Sans',sans-serif" font-weight="500" font-size="37" fill="#111111">Buckle</text>
<text transform="translate(895,1425) scale(0.945,1)" font-family="'Noto Sans CJK SC','Liberation Sans',sans-serif" font-weight="500" font-size="37" fill="#111111">2 card slots</text>
<line x1="71.500" y1="515" x2="71.500" y2="1292" stroke="#262626" stroke-width="2.800"/>
<path d="M71.500,501 L78,526 L71.500,521.500 L65,526 Z" fill="#262626"/>
<path d="M71.500,1305 L78,1280 L71.500,1284.500 L65,1280 Z" fill="#262626"/>
<line x1="120" y1="1314.500" x2="1246" y2="1314.500" stroke="#262626" stroke-width="2.600"/>
<path d="M106.500,1314.500 L131.500,1308 L127,1314.500 L131.500,1321 Z" fill="#262626"/>
<path d="M1258,1314.500 L1233,1308 L1237.500,1314.500 L1233,1321 Z" fill="#262626"/>
<text transform="translate(606.500,1373.500) scale(1.078,1)" font-family="'Liberation Sans',sans-serif" font-size="43" fill="#3c3c3c">280mm</text>
<text transform="translate(33.800,819.500) rotate(90) scale(1.026,1)" font-family="'Liberation Sans',sans-serif" font-size="44.500" fill="#3c3c3c">190mm</text>
</g>
</svg>
</body></html>
